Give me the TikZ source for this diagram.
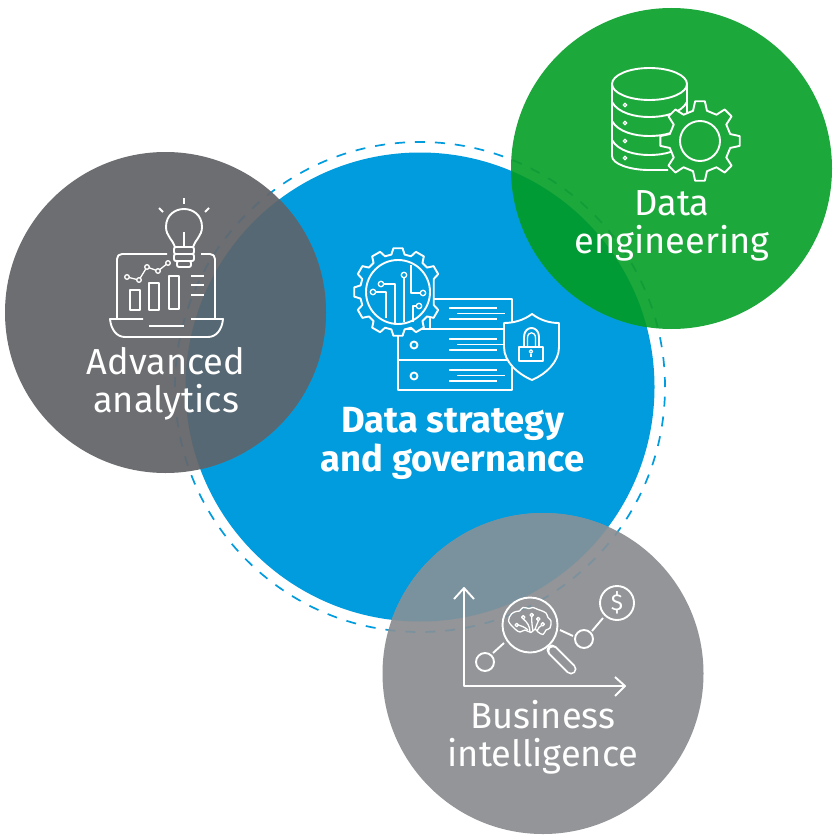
\documentclass[tikz,border=0pt]{standalone}
\usepackage{fontspec}
\setmainfont{Fira Sans}
\definecolor{coreblue}{HTML}{009CDE}
\definecolor{deepgray}{HTML}{6D6E71}
\definecolor{deepover}{HTML}{566873}
\definecolor{deepdash}{HTML}{5B6B77}
\definecolor{greenbg}{HTML}{1CA83B}
\definecolor{greenover}{HTML}{009B34}
\definecolor{greendash}{HTML}{129C38}
\definecolor{lightgray}{HTML}{939598}
\definecolor{lightover}{HTML}{7A929E}
\definecolor{lightdash}{HTML}{7B929E}
\tikzset{
  iconline/.style={draw=white,line width=1.9pt,line join=round},
  thinline/.style={draw=white,line width=1.3pt,line join=round},
  ringline/.style={line width=1.7pt,dash pattern=on 10pt off 10pt},
  title/.style={text=white,font=\fontsize{36.2}{38}\selectfont,align=center,inner sep=0pt},
  boldtitle/.style={text=white,font=\fontsize{36.4}{39}\selectfont\bfseries,align=center,inner sep=0pt},
}
% center, root radius, tip radius, tooth list, half widths, fill
\newcommand{\gearshape}[7]{
  \draw[iconline,fill=#7,shift={(#1)}] (#4-#5:#2)
    \foreach \a in {#4,#3} {-- (\a-#5:#2) -- (\a-#6:#2+\gearlift) -- (\a+#6:#2+\gearlift) -- (\a+#5:#2)} -- cycle;
}
\newcommand{\gearlift}{6}
\begin{document}
\begin{tikzpicture}[x=1pt,y=-1pt]
\useasboundingbox (0,0) rectangle (840,840);
\coordinate (corecenter) at (420,387);
\coordinate (greencenter) at (671.5,168.5);
\coordinate (leftcenter) at (165.5,312.5);
\coordinate (bottomcenter) at (543,673.5);

\fill[white] (0,0) rectangle (840,840);
\fill[coreblue] (corecenter) circle (234.5pt);
\draw[ringline,coreblue] (corecenter) circle (245pt);
\fill[greenbg] (greencenter) circle (160.5pt);
\fill[deepgray] (leftcenter) circle (160.5pt);
\fill[lightgray] (bottomcenter) circle (160.5pt);

\begin{scope}
\clip (greencenter) circle (160.5pt);
\draw[ringline,greendash] (corecenter) circle (245pt);
\fill[greenover] (corecenter) circle (234.5pt);
\end{scope}
\begin{scope}
\clip (leftcenter) circle (160.5pt);
\draw[ringline,deepdash] (corecenter) circle (245pt);
\fill[deepover] (corecenter) circle (234.5pt);
\end{scope}
\begin{scope}
\clip (bottomcenter) circle (160.5pt);
\draw[ringline,lightdash] (corecenter) circle (245pt);
\fill[lightover] (corecenter) circle (234.5pt);
\end{scope}

% server stack
\draw[iconline] (398,329) rectangle (512,360);
\draw[iconline] (398,360) rectangle (512,390);
\draw[iconline] (430,299) rectangle (512,329);
\foreach \y in {308,339,370} {
  \draw[iconline] (449,\y) -- (497,\y);
  \draw[iconline] (457,\y+5.5) -- (505,\y+5.5);
  \draw[iconline] (449,\y+11) -- (497,\y+11);
}
\draw[iconline] (414,345) circle (3.5pt);
\draw[iconline] (414,376) circle (3.5pt);

% gear with circuit
\renewcommand{\gearlift}{6}
\gearshape{398,292}{38}{60,90,120,150,180,210,240,270,300,330}{30}{10}{6}{coreblue}
\draw[iconline] (398,292) circle (32pt);
\draw[thinline] (404,278) -- (404,322);
\draw[thinline] (404,275) circle (2.7pt);
\draw[thinline] (384,284) -- (395,284) -- (395,323);
\draw[thinline] (381,284) circle (2.7pt);
\draw[thinline] (376,292) -- (386,292) -- (386,318);
\draw[thinline] (373,292) circle (2.7pt);
\draw[thinline] (420,293) -- (411,293) -- (411,265);
\draw[thinline] (423,293) circle (2.7pt);
\draw[thinline] (417,306) -- (413,306) -- (413,322);
\draw[thinline] (419,306) circle (2.7pt);

% shield with lock
\draw[iconline,fill=coreblue] (532,314) .. controls (524,320) and (514,323) .. (504,323)
  -- (504,347) .. controls (504,362) and (518,374) .. (532,380)
  .. controls (546,374) and (559,362) .. (559,347) -- (559,323)
  .. controls (549,323) and (540,320) .. (532,314) -- cycle;
\draw[iconline] (519,347) rectangle (543,361);
\draw[iconline] (524,347) -- (524,337) .. controls (524,325) and (539,325) .. (539,337) -- (539,347);
\draw[thinline] (527.5,347) -- (527.5,338) .. controls (527.5,331) and (535.5,331) .. (535.5,338) -- (535.5,347);
\draw[thinline] (531,351.5) circle (1.7pt);
\draw[thinline] (531,353.5) -- (531,357);

\node[boldtitle] (corelabel) at (452.5,443.5) {Data strategy\\and governance};

% database with gear
\draw[iconline] (612,84) -- (612,156) .. controls (612,164) and (630,170) .. (649,170) -- (668,170);
\foreach \y in {102,121,140} {
  \draw[iconline] (612,\y) .. controls (618,\y+11) and (635,\y+15) .. (649,\y+15)
    .. controls (665,\y+15) and (681,\y+11) .. (687,\y);
}
\draw[iconline] (687,84) -- (687,125);
\draw[iconline] (649.5,84) ellipse (37.5pt and 16pt);
\foreach \y in {105,123,141,158} {
  \draw[thinline] (625,\y) circle (1.8pt);
}
\renewcommand{\gearlift}{9}
\gearshape{700,141}{31}{45,90,135,180,225,270,315}{0}{13}{7}{greenbg}
\draw[iconline] (700,141) circle (20pt);

\node[title] (greenlabel) at (672,226) {Data\\engineering};

% bulb
\draw[iconline] (184,198) -- (184,204);
\draw[iconline] (159,208) -- (163,212);
\draw[iconline] (209,208) -- (205,212);
\draw[iconline] (175,247) .. controls (173,240) and (166,236) .. (166,227)
  .. controls (166,203) and (202,203) .. (202,227)
  .. controls (202,236) and (195,240) .. (193,247);
\draw[iconline] (184,232) -- (184,247);
\draw[iconline,rounded corners=2pt] (174,247) rectangle (194,254);
\draw[iconline,rounded corners=2pt] (174,254) rectangle (194,261);
\draw[iconline,rounded corners=2pt] (177,261) rectangle (191,267);

% laptop
\draw[iconline] (167,254) -- (122,254) .. controls (119,254) and (117,256) .. (117,259) -- (117,319);
\draw[iconline] (201,254) -- (210,254) .. controls (213,254) and (215,256) .. (215,259) -- (215,319);
\draw[iconline] (143,319) -- (110,319) .. controls (111,330) and (117,337) .. (125,337)
  -- (208,337) .. controls (216,337) and (222,330) .. (223,319) -- (191,319);
\draw[iconline] (149,326) -- (184,326);
\draw[iconline] (130,290) rectangle (140,310);
\draw[iconline] (149,283) rectangle (159,310);
\draw[iconline] (169,276) rectangle (179,309);
\foreach \y in {276,285,295} {
  \draw[iconline] (191,\y) -- (204,\y);
}
\draw[thinline] (127,277) -- (139,280) -- (147,267) -- (158,271) -- (168,263);
\foreach \p in {{127,277},{139,280},{147,267},{158,271},{168,263}} {
  \draw[thinline,fill=deepgray] (\p) circle (2.3pt);
}

\node[title] (leftlabel) at (166,384) {Advanced\\analytics};

% chart axes
\draw[iconline] (454,599) -- (464,588) -- (474,599);
\draw[iconline] (464,588) -- (464,686) -- (625,686);
\draw[iconline] (615,677) -- (625,686) -- (615,696);
\draw[iconline] (485,662) circle (9pt);
\draw[iconline] (584,639) circle (9pt);
\draw[iconline] (617,603) circle (17pt);
\draw[iconline] (493,653) -- (504,643);
\draw[iconline] (560,630) -- (573,636);
\draw[iconline] (592,631) -- (603,618);
\node[text=white,font=\fontsize{23}{23}\selectfont,inner sep=0pt] (dollarsign) at (617,603) {\$};

% magnifier with brain
\draw[white,line width=11pt,line cap=round] (552,650) -- (571,669);
\draw[lightgray,line width=7.4pt,line cap=round] (553,651) -- (571,669);
\draw[iconline] (530,625) circle (27.5pt);
\draw[thinline] plot[smooth cycle,tension=0.6] coordinates {(508.5,621) (511.5,614) (516,611.5) (519.5,611) (523,607.5) (529,608.5) (533,607.5) (538,609.5) (541,610.5) (546,613) (548,617.5) (551,621) (550,628) (546,630) (543,634.5) (538,632) (535,629) (531,632.5) (525,630) (520,632) (515,629)};
\draw[thinline] (530,632) .. controls (530,626) and (527,622) .. (523.3,619);
\draw[thinline] (533,631) .. controls (532,626) and (531.7,622) .. (531.7,617);
\draw[thinline] (535,630) .. controls (536,626) and (537,624) .. (538.3,621);
\draw[thinline] (528,630) .. controls (525,627) and (521,626) .. (518.5,625);
\draw[thinline] (537,631) .. controls (538,628) and (540,626) .. (541.5,625.5);
\foreach \p in {{516.7,625},{523.3,617.3},{531.7,615},{538.3,619},{542.7,624.3}} {
  \draw[thinline,fill=lightgray] (\p) circle (1.7pt);
}

\node[title] (bottomlabel) at (543,737) {Business\\intelligence};
\end{tikzpicture}
\end{document}
